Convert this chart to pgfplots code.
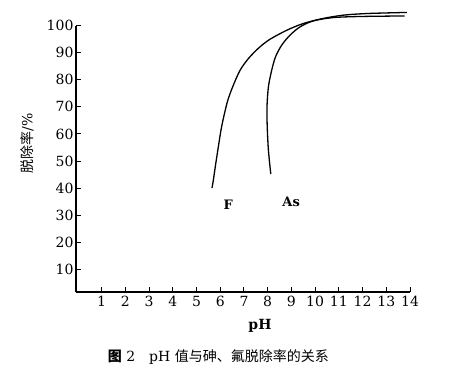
\documentclass[border=0pt]{standalone}
\usepackage{pgfplots}
\pgfplotsset{compat=1.18}
\usepackage{fontspec}
\setmainfont{DejaVu Serif}
\newfontfamily\cjk{Noto Sans CJK SC}
\begin{document}
\begin{tikzpicture}
\useasboundingbox (-76pt,-77pt) rectangle (374pt,292pt);
\begin{axis}[
  scale only axis, width=334pt, height=266.3pt,
  xmin=-0.083, xmax=14, ymin=1.6, ymax=100,
  axis lines=left,
  axis line style={-, line width=1.2pt},
  tick align=inside,
  major tick length=5pt,
  tick style={line width=1pt, black},
  xtick={1,...,14}, ytick={10,20,...,100},
  /pgf/number format/assume math mode=true,
  tick label style={font=\fontsize{14}{16}\selectfont},
  xticklabel style={yshift=-1pt},
  yticklabel style={xshift=1pt},
  clip=false,
]
\addplot[black, line width=1.3pt, smooth, tension=0.5] coordinates {
(5.65,40) (5.71,43) (5.80,48.5) (5.92,55.3) (6.03,61.4) (6.15,66.5) (6.32,72.5) (6.55,78) (6.84,83.6) (7.19,87.9) (7.65,92.0) (8.1,95.0) (8.8,98.3) (9.5,100.8) (10.35,102.7) (11.2,103.9) (12.2,104.5) (13.87,104.9)
};
\addplot[black, line width=1.3pt, smooth, tension=0.5] coordinates {
(8.13,45.2) (8.03,54) (7.98,62.7) (7.97,70) (8.03,77.4) (8.17,83.6) (8.33,88.5) (8.59,92.8) (8.94,96.5) (9.37,99.6) (9.93,101.8) (10.77,103.0) (11.9,103.4) (13.77,103.6)
};
\node[font=\bfseries\fontsize{13}{15}\selectfont] at (axis cs:6.34,33.8) {F};
\node[font=\bfseries\fontsize{13}{15}\selectfont] at (axis cs:8.99,35) {As};
\end{axis}
\node[rotate=90, font=\fontsize{14}{16}\selectfont] at (-49pt,149pt) {{\cjk 脱除率}/\%};
\node[font=\bfseries\fontsize{14}{16}\selectfont] at (184pt,-33.7pt) {pH};
\node[font=\fontsize{14}{16}\selectfont] at (142.3pt,-64.7pt) {{\cjk\bfseries 图} 2\quad pH {\cjk 值与砷、氟脱除率的关系}};
\end{tikzpicture}
\end{document}
